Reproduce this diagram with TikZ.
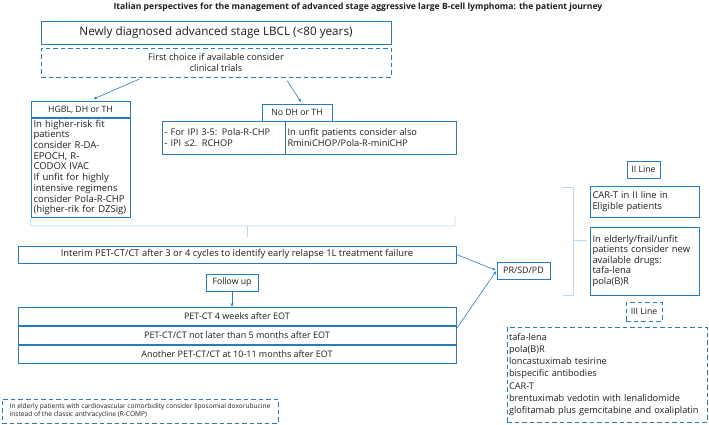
\documentclass[tikz,border=0pt]{standalone}
\usepackage{fontspec}
\setmainfont{Open Sans}
\usetikzlibrary{arrows.meta}
\definecolor{boxblue}{RGB}{40,124,190}
\definecolor{linkblue}{RGB}{192,217,237}
\definecolor{txt}{RGB}{30,30,30}
\newcommand{\headfont}{\fontsize{8.7}{10}\selectfont}
\newcommand{\bodyfont}{\fontsize{9.2}{10.5}\selectfont}

\begin{document}
\begin{tikzpicture}[x=1pt, y=-1pt,
  box/.style={draw=boxblue, line width=0.9pt, inner sep=2.5pt, text=txt, align=center, font=\headfont},
  dbox/.style={box, dash pattern=on 4.5pt off 3pt},
  fixed/.style 2 args={minimum width=#1, minimum height=#2},
  arr/.style={->, >={Stealth[length=3.5pt, width=3pt]}, draw=boxblue, line width=0.6pt},
  bracket/.style={draw=linkblue, line width=0.9pt}]
\useasboundingbox (0,0) rectangle (709,424);

\node[font=\bfseries\fontsize{8.6}{10}\selectfont, text=txt] (title) at (358,7)
  {Italian perspectives for the management of advanced stage aggressive large B-cell lymphoma: the patient journey};

% first line
\node[box, fixed={350pt}{23pt}, font=\fontsize{11.7}{13}\selectfont] (newly) at (216,32.5)
  {Newly diagnosed advanced stage LBCL (<80 years)};
\node[dbox, fixed={350pt}{29pt}, font=\fontsize{9.2}{10.5}\selectfont] (trials) at (216,62.5)
  {First choice if available consider\\clinical trials};

% HGBL branch
\node[box, fixed={99pt}{17pt}] (hgblhead) at (80.5,109.5) {HGBL, DH or TH};
\node[box, align=left, text width=94pt, minimum height=99pt, font=\fontsize{9.5}{10.7}\selectfont] (hgblbody) at (80.5,167.5)
  {In higher-risk fit\\patients\\consider R-DA-\\EPOCH, R-\\CODOX IVAC\\If unfit for highly\\intensive regimens\\consider Pola-R-CHP\\(higher-rik for DZSig)};

% no DH branch
\node[box, fixed={70pt}{17pt}] (nodhhead) at (297,112.5) {No DH or TH};
\node[box, align=left, text width=118pt, minimum height=33pt, font=\bodyfont] (ipi) at (223.5,137.5)
  {- For IPI 3-5: Pola-R-CHP\\- IPI ≤2. RCHOP};
\node[box, align=left, text width=166pt, minimum height=33pt, font=\bodyfont] (unfit) at (370.5,137.5)
  {In unfit patients consider also\\RminiCHOP/Pola-R-miniCHP};

% bracket
\coordinate (brl) at (31,226);
\coordinate (brr) at (455,226);
\draw[bracket] (hgblbody.south west) -- (brl) -- (brr) -- (455,215);
\draw[bracket] (247,226) -- (247,237);

% interim and follow up
\node[box, fixed={438pt}{17pt}, font=\fontsize{9.4}{10}\selectfont] (interim) at (237,254.5)
  {Interim PET-CT/CT after 3 or 4 cycles to identify early relapse 1L treatment failure};
\node[box, fixed={52pt}{17pt}] (followup) at (232,282.5) {Follow up};
\node[box, fixed={438pt}{18.3pt}, font=\fontsize{9}{10}\selectfont] (pet1) at (237,316.15) {PET-CT 4 weeks after EOT};
\node[box, fixed={438pt}{18.3pt}, font=\fontsize{9}{10}\selectfont, anchor=north] (pet2) at (pet1.south)
  {PET-CT/CT not later than 5 months after EOT};
\node[box, fixed={438pt}{18.3pt}, font=\fontsize{9}{10}\selectfont, anchor=north] (pet3) at (pet2.south)
  {Another PET-CT/CT at 10-11 months after EOT};

\node[dbox, align=left, fixed={276pt}{24pt}, font=\fontsize{6.6}{7.5}\selectfont] (note) at (140,411)
  {In elderly patients with cardiovascular comorbidity consider liposomial doxorubucine\\instead of the classic anthracycline (R-COMP)};

\node[box, fixed={53pt}{17pt}, font=\fontsize{8.9}{10}\selectfont] (pr) at (523.5,270.5) {PR/SD/PD};

% II line
\node[box, fixed={33pt}{17pt}] (iiline) at (643.5,169.5) {II Line};
\node[box, align=left, text width=104pt, minimum height=31pt, font=\fontsize{9.4}{10.5}\selectfont] (cart) at (644.5,201.5)
  {CAR-T in II line in\\Eligible patients};
\node[box, align=left, text width=104pt, minimum height=68pt, font=\fontsize{9.4}{10.5}\selectfont] (elderly) at (644.5,261)
  {In elderly/frail/unfit\\patients consider new\\available drugs:\\tafa-lena\\pola(B)R};
\draw[bracket] (562,187) -- (573,187) -- (573,295) -- (563,295);
\draw[bracket] (573,240) -- (587,240);

% III line
\node[dbox, fixed={36pt}{19pt}] (iiiline) at (644,311.5) {III Line};
\node[dbox, align=left, text width=196pt, minimum height=95pt, inner sep=2pt, font=\fontsize{9.2}{12.3}\selectfont] (thirdline) at (607,374.5)
  {tafa-lena\\pola(B)R\\loncastuximab tesirine\\bispecific antibodies\\CAR-T\\brentuximab vedotin with lenalidomide\\glofitamab plus gemcitabine and oxaliplatin};

% arrows
\draw[arr, shorten <=4pt, shorten >=4pt] ([xshift=-73pt]trials.south) -- ([xshift=9.5pt]hgblhead.north);
\draw[arr, shorten <=4pt, shorten >=2pt] ([xshift=69pt]trials.south) -- ([xshift=5pt]nodhhead.north);
\draw[arr] (followup.south) -- (followup.south |- pet1.north);
\draw[arr, shorten >=1pt] (interim.east) -- (pr.west);
\draw[arr, shorten >=1pt] ([yshift=-3pt]pet2.north east) -- (pr.west);
\end{tikzpicture}
\end{document}
